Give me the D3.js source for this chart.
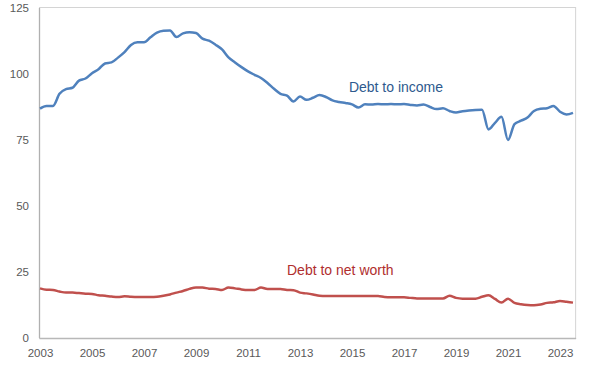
<!DOCTYPE html>
<html>
<head>
<meta charset="utf-8">
<script src="https://cdn.jsdelivr.net/npm/d3@7"></script>
<style>
  html, body { margin: 0; padding: 0; background: #fff; }
  svg { display: block; }
</style>
</head>
<body>
<svg id="chart" width="605" height="369"></svg>
<script>
// Quarterly data, 2003Q1 .. 2023Q3
const startYear = 2003;
const debtToIncome = [
  86.9, 87.9, 87.9, 92.5, 94.3, 94.8, 97.5, 98.3, 100.3, 101.8,
  104.0, 104.4, 106.2, 108.3, 111.0, 112.0, 112.0, 113.9, 115.7, 116.4,
  116.5, 114.0, 115.4, 115.8, 115.5, 113.4, 112.6, 111.1, 109.3, 106.3,
  104.4, 102.6, 101.0, 99.7, 98.5, 96.6, 94.4, 92.5, 91.8, 89.6,
  91.5, 90.2, 91.0, 92.0, 91.3, 90.0, 89.4, 89.0, 88.5, 87.3,
  88.5, 88.4, 88.6, 88.5, 88.6, 88.5, 88.6, 88.3, 88.1, 88.4,
  87.5, 86.7, 87.0, 86.0, 85.4, 85.9, 86.2, 86.4, 86.5, 79.0,
  81.5, 83.8, 75.0, 81.0, 82.3, 83.5, 86.0, 86.8, 87.0, 87.9,
  85.7, 84.7, 85.3
];
const debtToNetWorth = [
  18.8, 18.3, 18.2, 17.6, 17.2, 17.2, 17.0, 16.8, 16.7, 16.2,
  16.0, 15.7, 15.5, 15.8, 15.6, 15.5, 15.5, 15.5, 15.6, 16.0,
  16.5, 17.2, 17.8, 18.6, 19.1, 19.1, 18.7, 18.6, 18.2, 19.1,
  18.8, 18.4, 18.2, 18.2, 19.1, 18.6, 18.6, 18.6, 18.2, 18.1,
  17.2, 16.9, 16.5, 16.0, 15.9, 15.9, 15.9, 15.9, 15.9, 15.9,
  15.9, 15.9, 15.9, 15.5, 15.4, 15.4, 15.4, 15.2, 15.0, 15.0,
  15.0, 15.0, 15.0, 16.0, 15.2, 14.9, 14.9, 14.9, 15.6, 16.2,
  14.8, 13.4, 14.9, 13.3, 12.8, 12.5, 12.4, 12.7, 13.3, 13.5,
  14.0, 13.7, 13.4
];
const yTicks = [0, 25, 50, 75, 100, 125];
const xTicks = [2003, 2005, 2007, 2009, 2011, 2013, 2015, 2017, 2019, 2021, 2023];
const seriesLabels = ["Debt to income", "Debt to net worth"];

const svg = d3.select("#chart");
const x = d3.scaleLinear().domain([2003, 2023]).range([40, 560]);
const y = d3.scaleLinear().domain([0, 125]).range([338, 8]);
const xEnd = 2023.62;

// frame
svg.append("rect")
  .attr("x", x(2003) - 0.5).attr("y", y(125) - 0.5)
  .attr("width", x(xEnd) - x(2003)).attr("height", y(0) - y(125) + 1)
  .attr("fill", "none").attr("stroke", "#d4d4d4").attr("stroke-width", 1);
// left + bottom axis lines
svg.append("line").attr("x1", x(2003) - 0.5).attr("x2", x(2003) - 0.5)
  .attr("y1", y(125)).attr("y2", y(0)).attr("stroke", "#b0b0b0").attr("stroke-width", 1.3);
svg.append("line").attr("x1", x(2003) - 0.5).attr("x2", x(xEnd))
  .attr("y1", y(0) + 0.5).attr("y2", y(0) + 0.5).attr("stroke", "#b8b8b8").attr("stroke-width", 1.3);

const font = "'Liberation Sans', Arial, sans-serif";

// y axis
const yAxis = d3.axisLeft(y).tickValues(yTicks).tickSize(0).tickPadding(11);
const gy = svg.append("g").attr("transform", `translate(${x(2003)},0)`).call(yAxis);
gy.select(".domain").remove();
gy.selectAll("text").attr("fill", "#595959").style("font-family", font).style("font-size", "11.5px");

// x axis
const xAxis = d3.axisBottom(x).tickValues(xTicks).tickFormat(d3.format("d")).tickSize(0).tickPadding(11);
const gx = svg.append("g").attr("transform", `translate(0,${y(0)})`).call(xAxis);
gx.select(".domain").remove();
gx.selectAll("text").attr("fill", "#595959").style("font-family", font).style("font-size", "11.5px");

const line = d3.line()
  .x((d, i) => x(startYear + i / 4))
  .y(d => y(d))
  .curve(d3.curveMonotoneX);

svg.append("path").datum(debtToIncome)
  .attr("d", line).attr("fill", "none")
  .attr("stroke", "#4F81BD").attr("stroke-width", 2.5).attr("stroke-linejoin", "round");
svg.append("path").datum(debtToNetWorth)
  .attr("d", line).attr("fill", "none")
  .attr("stroke", "#C0504D").attr("stroke-width", 2.5).attr("stroke-linejoin", "round");

// series labels
svg.append("text").attr("x", x(2014.88)).attr("y", y(93.3))
  .text(seriesLabels[0]).attr("fill", "#2E5A8E")
  .style("font-family", font).style("font-size", "14px");
svg.append("text").attr("x", x(2012.5)).attr("y", y(24.0))
  .text(seriesLabels[1]).attr("fill", "#B02E2E")
  .style("font-family", font).style("font-size", "14px");
</script>
</body>
</html>
